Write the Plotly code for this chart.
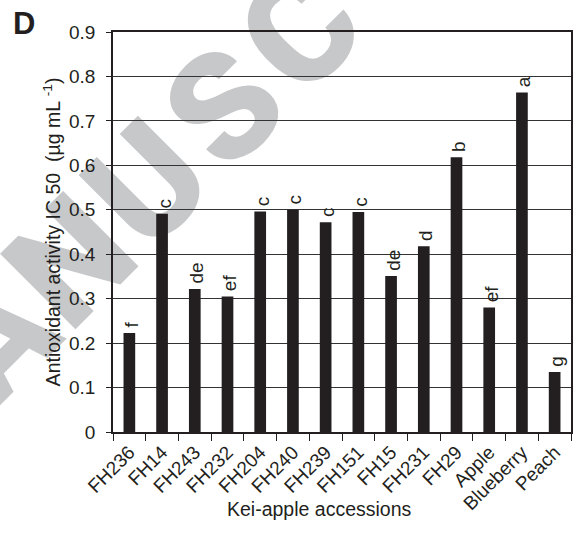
import plotly.graph_objects as go

# Accessions and reference fruits on the x axis
categories = ["FH236", "FH14", "FH243", "FH232", "FH204", "FH240", "FH239",
              "FH151", "FH15", "FH231", "FH29", "Apple", "Blueberry", "Peach"]
# IC50 values (µg mL-1)
ic50 = [0.223, 0.491, 0.322, 0.305, 0.496, 0.500, 0.472,
        0.495, 0.351, 0.418, 0.618, 0.280, 0.764, 0.135]
# Mean-separation letters
groups = ["f", "c", "de", "ef", "c", "c", "c", "c", "de", "d", "b", "ef", "a", "g"]
# Y axis ticks
y_ticks = [0, 0.1, 0.2, 0.3, 0.4, 0.5, 0.6, 0.7, 0.8, 0.9]

INK = "#231f20"
FONT = "Liberation Sans, Arial, sans-serif"
W, H = 574, 536
ML, MR, MT, MB = 113, 1, 32, 104
PW, PH = W - ML - MR, H - MT - MB


def to_paper(px, py):
    """Pixel position on the page -> paper coordinates."""
    return (px - ML) / PW, (H - MB - py) / PH


fig = go.Figure(
    go.Bar(
        x=categories,
        y=ic50,
        marker=dict(color=INK, line=dict(width=0)),
        hoverinfo="x+y",
    )
)

# Letter groups written vertically, starting just above each bar top
for i, (val, grp) in enumerate(zip(ic50, groups)):
    fig.add_shape(
        type="rect", xref="x", yref="y",
        x0=i - 0.18, x1=i + 0.18, y0=val, y1=val,
        line=dict(width=0), fillcolor="rgba(0,0,0,0)", layer="above",
        label=dict(text="\u00a0" + grp, textposition="top center", textangle=-90,
                   xanchor="left", yanchor="middle", padding=0,
                   font=dict(family=FONT, size=19, color=INK)),
    )

# Letter-spaced diagonal watermark, drawn beneath grid and axes
wm_word = "MANUSCRIPT"
wm_start = (-91, 408)       # centre of the first letter, px
wm_step = (77, -77)         # spacing between letter centres, px
for i, ch in enumerate(wm_word):
    px = wm_start[0] + i * wm_step[0]
    py = wm_start[1] + i * wm_step[1]
    if px < -60 or py < -50:
        continue
    cx, cy = to_paper(px, py)
    fig.add_shape(
        type="rect", xref="paper", yref="paper",
        x0=cx - 0.001, x1=cx + 0.001, y0=cy - 0.001, y1=cy + 0.001,
        line=dict(width=0), fillcolor="rgba(0,0,0,0)", layer="below",
        label=dict(text=ch, textposition="middle center", textangle=-45,
                   font=dict(family="Roboto, Liberation Sans, sans-serif", size=150,
                             color="#c7c8ca", weight=900)),
    )

dx, dy = to_paper(24, 24)
ttx, tty = to_paper(320, 509)
fig.update_layout(
    width=W, height=H,
    margin=dict(l=ML, r=MR, t=MT, b=MB),
    paper_bgcolor="white", plot_bgcolor="rgba(0,0,0,0)",
    bargap=0.643,
    showlegend=False,
    font=dict(family=FONT, size=19, color=INK),
)
fig.add_annotation(
    text="<b>D</b>", xref="paper", yref="paper", x=dx, y=dy,
    xanchor="center", yanchor="middle", showarrow=False,
    font=dict(family=FONT, size=31, color=INK),
)
fig.add_annotation(
    text="Kei-apple accessions", xref="paper", yref="paper", x=ttx, y=tty,
    xanchor="center", yanchor="middle", showarrow=False,
    font=dict(family=FONT, size=19.5, color=INK),
)

fig.update_xaxes(
    type="category",
    tickangle=-45,
    tickson="boundaries",
    ticks="outside", ticklen=7, tickwidth=1, tickcolor=INK,
    showline=True, linecolor=INK, linewidth=1.5, mirror=True,
    showgrid=False,
    tickfont=dict(family=FONT, size=19, color=INK),
)

fig.update_yaxes(
    range=[0, 0.9],
    tickvals=y_ticks,
    ticktext=[f"{v:g}" for v in y_ticks],
    ticks="outside", ticklen=5, tickwidth=1, tickcolor=INK,
    ticklabelstandoff=7,
    showline=True, linecolor=INK, linewidth=1.5, mirror=True,
    showgrid=True, gridcolor="#333333", gridwidth=1.3,
    zeroline=False,
    tickfont=dict(family=FONT, size=19, color=INK),
    title=dict(text="Antioxidant activity IC 50\u00a0 (µg mL <sup>-1</sup>)", standoff=3,
               font=dict(family=FONT, size=19.5, color=INK)),
)

fig.write_html("out.html")
